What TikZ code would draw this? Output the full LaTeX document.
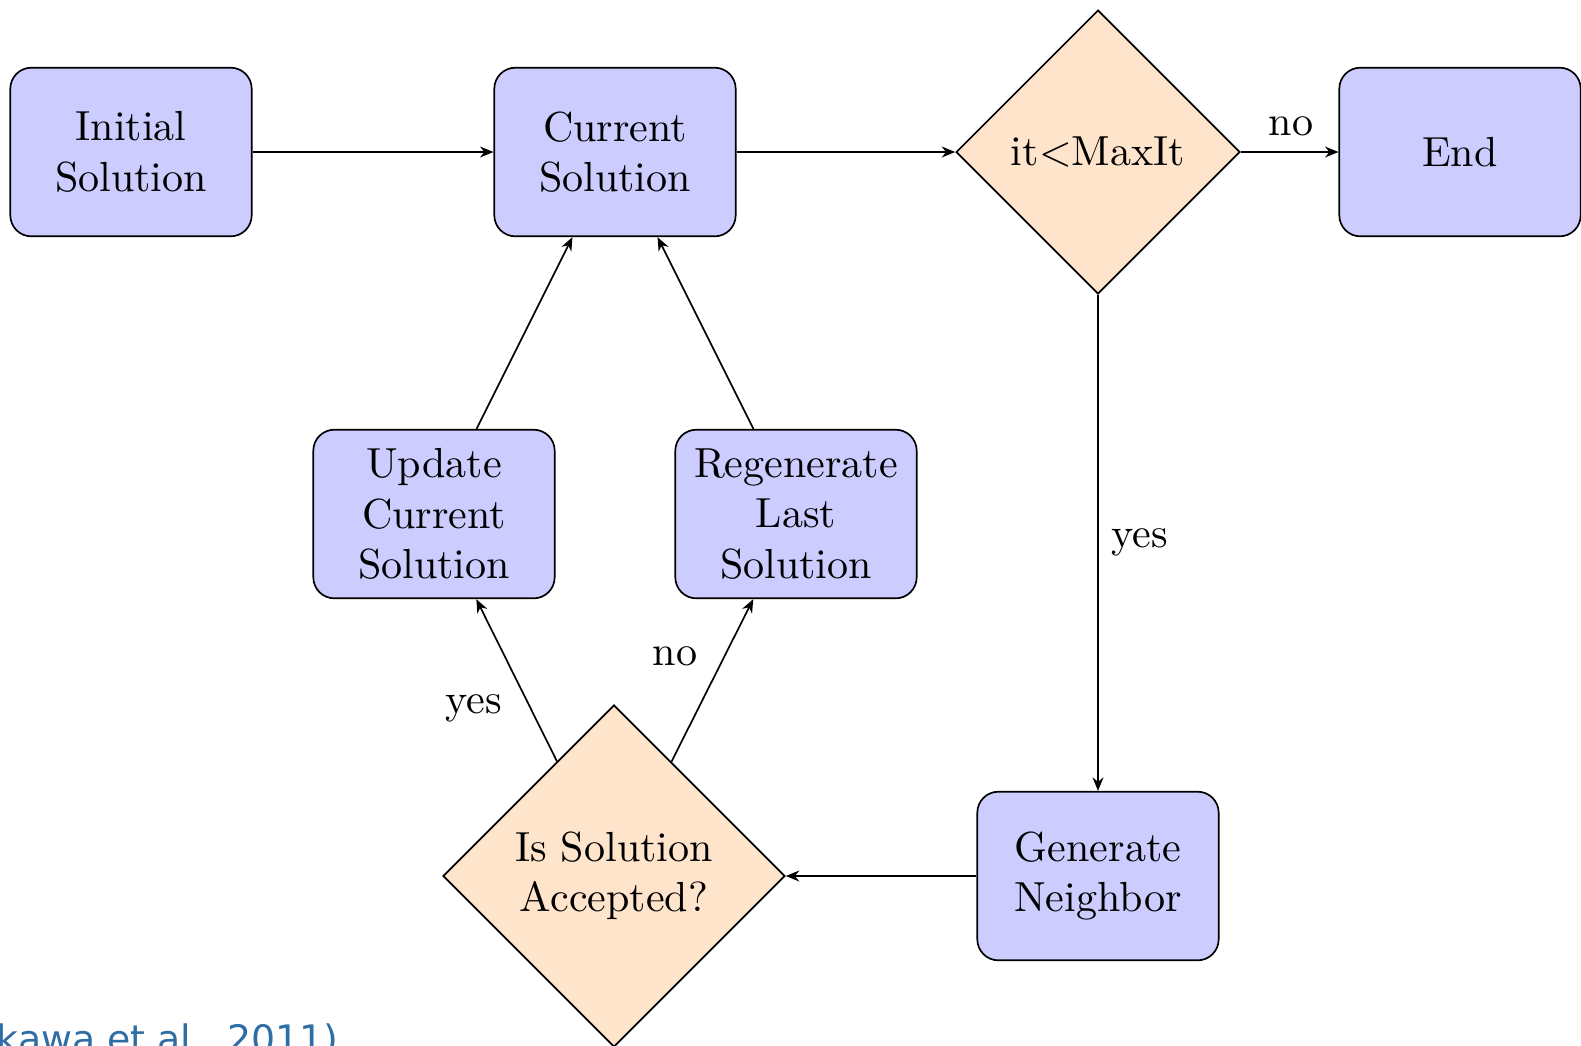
\documentclass[tikz,border=0pt]{standalone}
\usepackage{fontspec}
\usetikzlibrary{shapes.geometric,arrows.meta}
\newfontfamily\citefont{DejaVu Sans}
\definecolor{boxblue}{RGB}{204,204,255}
\definecolor{decorange}{RGB}{255,228,204}
\definecolor{citeblue}{RGB}{46,110,165}
\begin{document}
\begin{tikzpicture}[x=0.2378pt,y=-0.2378pt,
  procbox/.style={draw, fill=boxblue, rounded corners=5pt, align=center,
    minimum width=57.4pt, minimum height=40.1pt, inner sep=2pt},
  decision/.style={draw, fill=decorange, diamond, aspect=1, align=center, inner sep=1pt},
  flow/.style={-{Stealth[length=3.2pt,width=2.6pt]}, line width=0.4pt},
  lbl/.style={inner sep=0pt}]
  \useasboundingbox (0,0) rectangle (1581,1045);

  % process steps
  \node[procbox] (init)  at (131,152)  {Initial\\Solution};
  \node[procbox] (cur)   at (615,152)  {Current\\Solution};
  \node[procbox] (endn)  at (1460,152) {End};
  \node[procbox] (upd)   at (434,514)  {Update\\Current\\Solution};
  \node[procbox] (regen) at (796,514)  {Regenerate\\Last\\Solution};
  \node[procbox] (gen)   at (1098,876) {Generate\\Neighbor};

  % decisions
  \node[decision, minimum width=67.5pt, minimum height=67.5pt] (iter) at (1098,152) {it$<$MaxIt};
  \node[decision, minimum width=81.3pt, minimum height=81.3pt] (acc)  at (614,876) {Is Solution\\Accepted?};

  % connectors
  \draw[flow] (init) -- (cur);
  \draw[flow] (cur) -- (iter);
  \draw[flow] (iter) -- (endn);
  \draw[flow] (iter) -- (gen);
  \draw[flow] (gen) -- (acc);
  \draw[flow] (acc) -- (upd);
  \draw[flow] (acc) -- (regen);
  \draw[flow] (upd) -- (cur);
  \draw[flow] (regen) -- (cur);

  % branch labels
  \node[lbl] (lno1)  at (1291,126) {no};
  \node[lbl] (lyes1) at (1140,542) {yes};
  \node[lbl] (lyes2) at (474,708)  {yes};
  \node[lbl] (lno2)  at (675,656)  {no};

  % citation
  \node[anchor=base west, inner sep=0pt, text=citeblue, font=\citefont\fontsize{9pt}{10pt}\selectfont] (cite) at (-4,1052) {kawa et al., 2011)};
\end{tikzpicture}
\end{document}
